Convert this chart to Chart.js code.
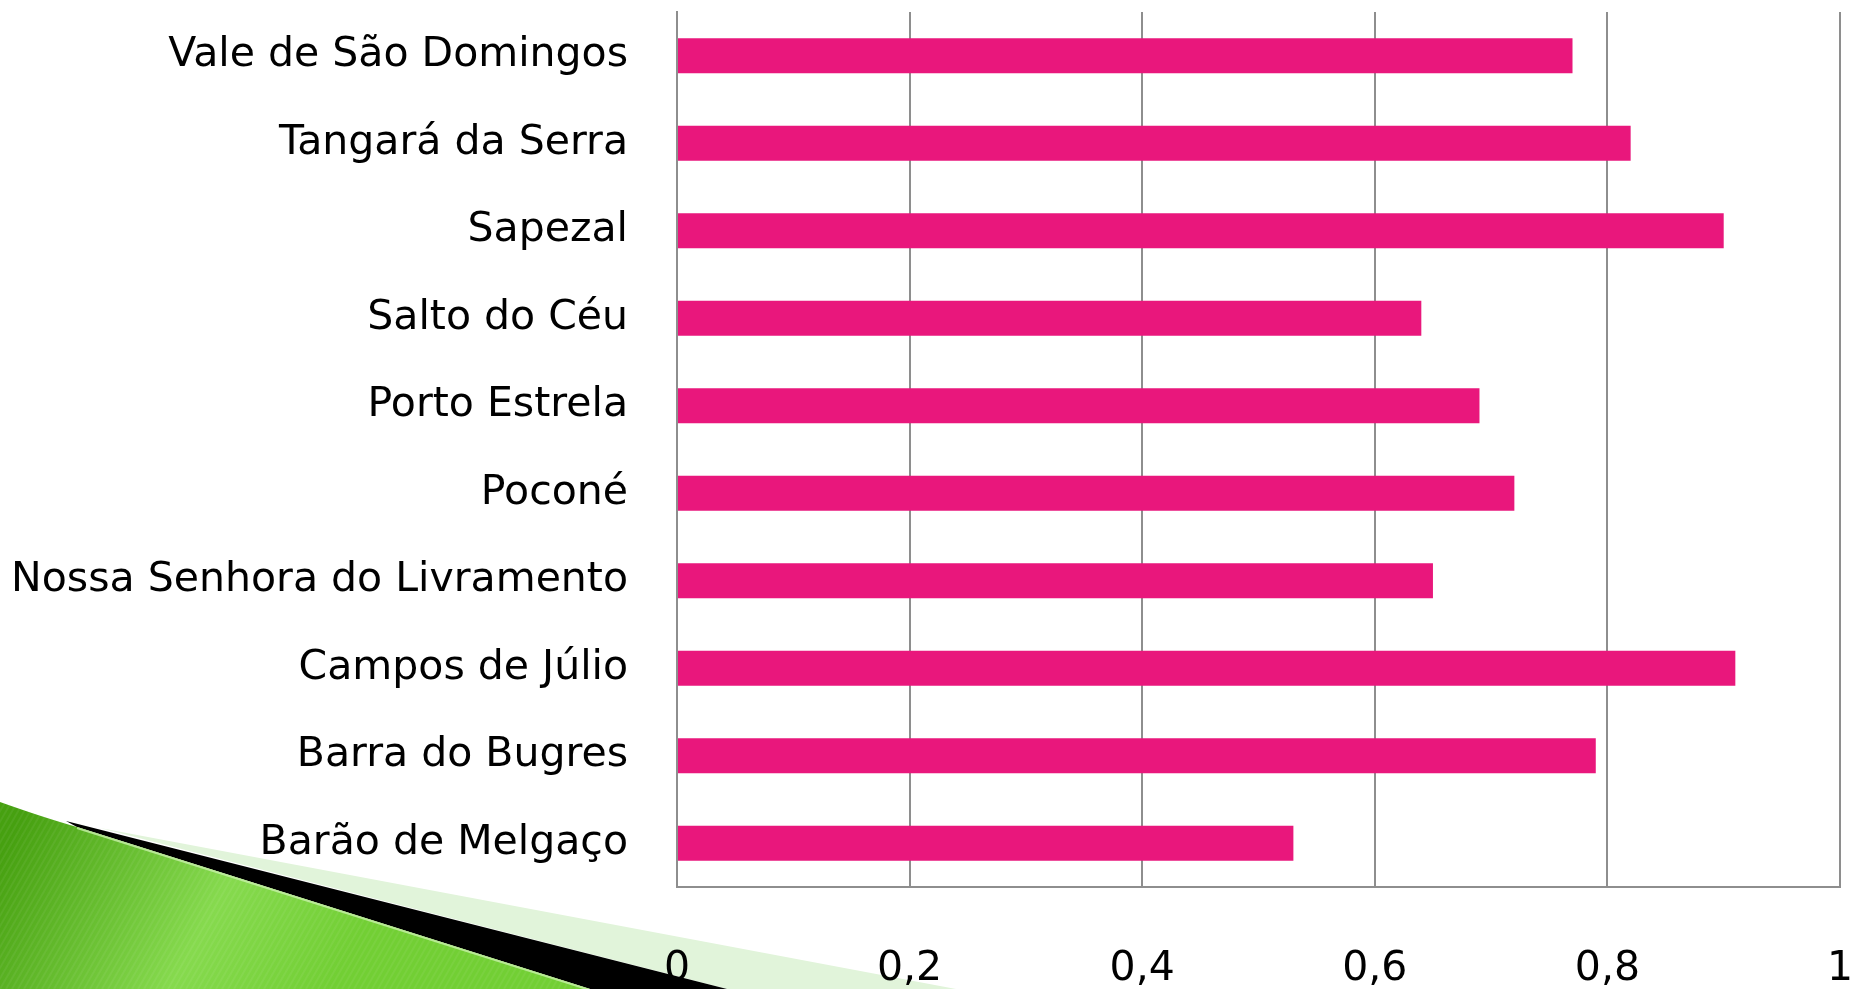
<!DOCTYPE html>
<html lang="pt">
<head>
    <meta charset="UTF-8">
    <title>Municípios</title>
    <script src="https://cdn.jsdelivr.net/npm/chart.js"></script>
    <style>
        html, body {
            margin: 0;
            padding: 0;
            background: #ffffff;
            overflow: hidden;
        }
        .chart-box {
            width: 1851px;
            height: 989px;
            position: relative;
        }
    </style>
</head>
<body>

    <div class="chart-box">
        <canvas id="barChart"></canvas>
    </div>

    <script>
        const municipios = [
            'Vale de São Domingos',
            'Tangará da Serra',
            'Sapezal',
            'Salto do Céu',
            'Porto Estrela',
            'Poconé',
            'Nossa Senhora do Livramento',
            'Campos de Júlio',
            'Barra do Bugres',
            'Barão de Melgaço'
        ];
        const valores = [0.77, 0.82, 0.90, 0.64, 0.69, 0.72, 0.65, 0.91, 0.79, 0.53];
        const tickLabels = ['0', '0,2', '0,4', '0,6', '0,8', '1'];

        // slide decoration in the bottom-left corner, drawn behind the chart
        const slideCorner = {
            id: 'slideCorner',
            beforeDraw(chart) {
                const ctx = chart.ctx;
                const h = chart.height;
                ctx.save();

                ctx.fillStyle = '#e1f4da';
                ctx.beginPath();
                ctx.moveTo(100, 828);
                ctx.lineTo(956, h);
                ctx.lineTo(727, h);
                ctx.closePath();
                ctx.fill();

                ctx.fillStyle = '#000000';
                ctx.beginPath();
                ctx.moveTo(66, 821);
                ctx.lineTo(727, h);
                ctx.lineTo(590, h);
                ctx.lineTo(77, 827);
                ctx.closePath();
                ctx.fill();

                const g = ctx.createLinearGradient(20, 820, 330, h);
                g.addColorStop(0, '#46a010');
                g.addColorStop(0.6, '#86da4e');
                g.addColorStop(1, '#72cf34');
                ctx.fillStyle = g;
                ctx.beginPath();
                ctx.moveTo(0, 802);
                ctx.quadraticCurveTo(45, 818, 77, 827);
                ctx.lineTo(590, h);
                ctx.lineTo(0, h);
                ctx.closePath();
                ctx.fill();

                // fine diagonal stripes of the texture
                ctx.clip();
                ctx.strokeStyle = 'rgba(255, 255, 255, 0.06)';
                ctx.lineWidth = 2;
                for (let x = -300; x < 700; x += 6) {
                    ctx.beginPath();
                    ctx.moveTo(x, h);
                    ctx.lineTo(x + 120, 780);
                    ctx.stroke();
                }

                ctx.restore();
                ctx.save();
                ctx.strokeStyle = 'rgba(200, 240, 170, 0.8)';
                ctx.lineWidth = 2;
                ctx.beginPath();
                ctx.moveTo(77, 828);
                ctx.lineTo(590, h + 1);
                ctx.stroke();
                ctx.restore();
            }
        };

        const gridGray = '#8e8e8e';

        new Chart(document.getElementById('barChart'), {
            type: 'bar',
            data: {
                labels: municipios,
                datasets: [{
                    data: valores,
                    backgroundColor: '#e9177c',
                    borderWidth: 0,
                    barPercentage: 0.4,
                    categoryPercentage: 1.0
                }]
            },
            options: {
                indexAxis: 'y',
                responsive: true,
                maintainAspectRatio: false,
                animation: false,
                layout: {
                    padding: { top: 12, right: 11, left: 0, bottom: 0 }
                },
                plugins: {
                    legend: { display: false },
                    tooltip: { enabled: false }
                },
                scales: {
                    x: {
                        min: 0,
                        max: 1,
                        ticks: {
                            stepSize: 0.2,
                            padding: 58,
                            color: '#000000',
                            font: { family: 'DejaVu Sans', size: 41 },
                            maxRotation: 0,
                            callback: (v, i) => tickLabels[i]
                        },
                        grid: {
                            color: gridGray,
                            lineWidth: 2,
                            drawTicks: false
                        },
                        border: { display: true, color: gridGray, width: 2 },
                        afterFit(scale) {
                            scale.height = 102;
                            scale.paddingLeft = 0;
                            scale.paddingRight = 0;
                        }
                    },
                    y: {
                        ticks: {
                            padding: 49,
                            color: '#000000',
                            font: { family: 'DejaVu Sans', size: 41 }
                        },
                        grid: { display: false, drawTicks: false },
                        border: { display: true, color: gridGray, width: 2 },
                        afterFit(scale) {
                            scale.width = 677;
                            scale.paddingTop = 0;
                            scale.paddingBottom = 0;
                        }
                    }
                }
            },
            plugins: [slideCorner]
        });
    </script>
</body>
</html>
